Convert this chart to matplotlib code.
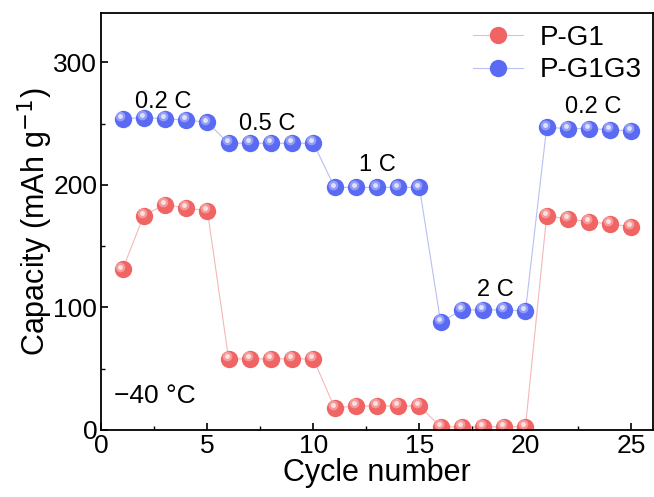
import matplotlib.pyplot as plt
import matplotlib.transforms as mtrans

plt.rcParams['font.family'] = ['Liberation Sans', 'DejaVu Sans']

cycles = list(range(1, 26))
pg1 = [131, 175, 184, 181, 179,
       58, 58, 58, 58, 58,
       18, 19.5, 19.5, 19.5, 19.5,
       2.5, 2.5, 2.5, 2.5, 2.5,
       175, 172, 170, 168, 166]
pg1g3 = [254, 255, 254, 253, 251,
         234, 234, 234, 234, 234,
         198, 198, 198, 198, 198,
         88, 98, 98, 98, 97,
         247, 246, 246, 245, 244]
rate_labels = ['0.2 C', '0.5 C', '1 C', '2 C', '0.2 C']
rate_x = [2.9, 7.8, 13.0, 18.6, 23.2]
rate_y = [268, 250, 216, 114, 264]

fig = plt.figure(figsize=(6.54, 4.97), dpi=100)
ax = fig.add_axes([0.155, 0.135, 0.843, 0.838])

def sphere(ax, x, y, color, line, label):
    ax.plot(x, y, '-', color=line, lw=0.8, zorder=1)
    ax.plot(x, y, 'o', color=color, ms=12.5, mec='none', zorder=2)
    hl = mtrans.offset_copy(ax.transData, fig=fig, x=-1.5, y=2, units='points')
    ax.plot(x, y, 'o', color='white', alpha=0.35, ms=7, mec='none', zorder=3, transform=hl)
    ax.plot(x, y, 'o', color='white', alpha=0.7, ms=3.5, mec='none', zorder=4, transform=hl)
    ax.plot([], [], '-o', color=line, lw=0.8, mfc=color, mec='none', ms=12.5, label=label)

sphere(ax, cycles, pg1, '#f06464', '#f4b8b8', 'P-G1')
sphere(ax, cycles, pg1g3, '#5a6af2', '#b8c0f4', 'P-G1G3')

for t, x, y in zip(rate_labels, rate_x, rate_y):
    ax.text(x, y, t, fontsize=17, ha='center', va='center')
ax.text(0.6, 28, '\u221240 \u00b0C', fontsize=19, ha='left', va='center')

ax.set_xlim(0, 26)
ax.set_ylim(0, 340)
ax.set_xticks([0, 5, 10, 15, 20, 25])
ax.set_xticks([2.5, 7.5, 12.5, 17.5, 22.5], minor=True)
ax.set_yticks([0, 100, 200, 300])
ax.set_yticks([50, 150, 250], minor=True)
ax.tick_params(direction='in', labelsize=19, width=1.2, length=5, pad=3)
ax.tick_params(which='minor', direction='in', width=1.0, length=3)
for s in ax.spines.values():
    s.set_linewidth(1.3)
ax.set_xlabel('Cycle number', fontsize=22, labelpad=0)
ax.set_ylabel('Capacity (mAh g$^{-1}$)', fontsize=22, labelpad=-1)

ax.legend(loc='upper right', frameon=False, fontsize=20, handlelength=1.8,
          borderaxespad=0.0, labelspacing=0.25, handletextpad=0.6)

fig.savefig('out.png', dpi=100)
